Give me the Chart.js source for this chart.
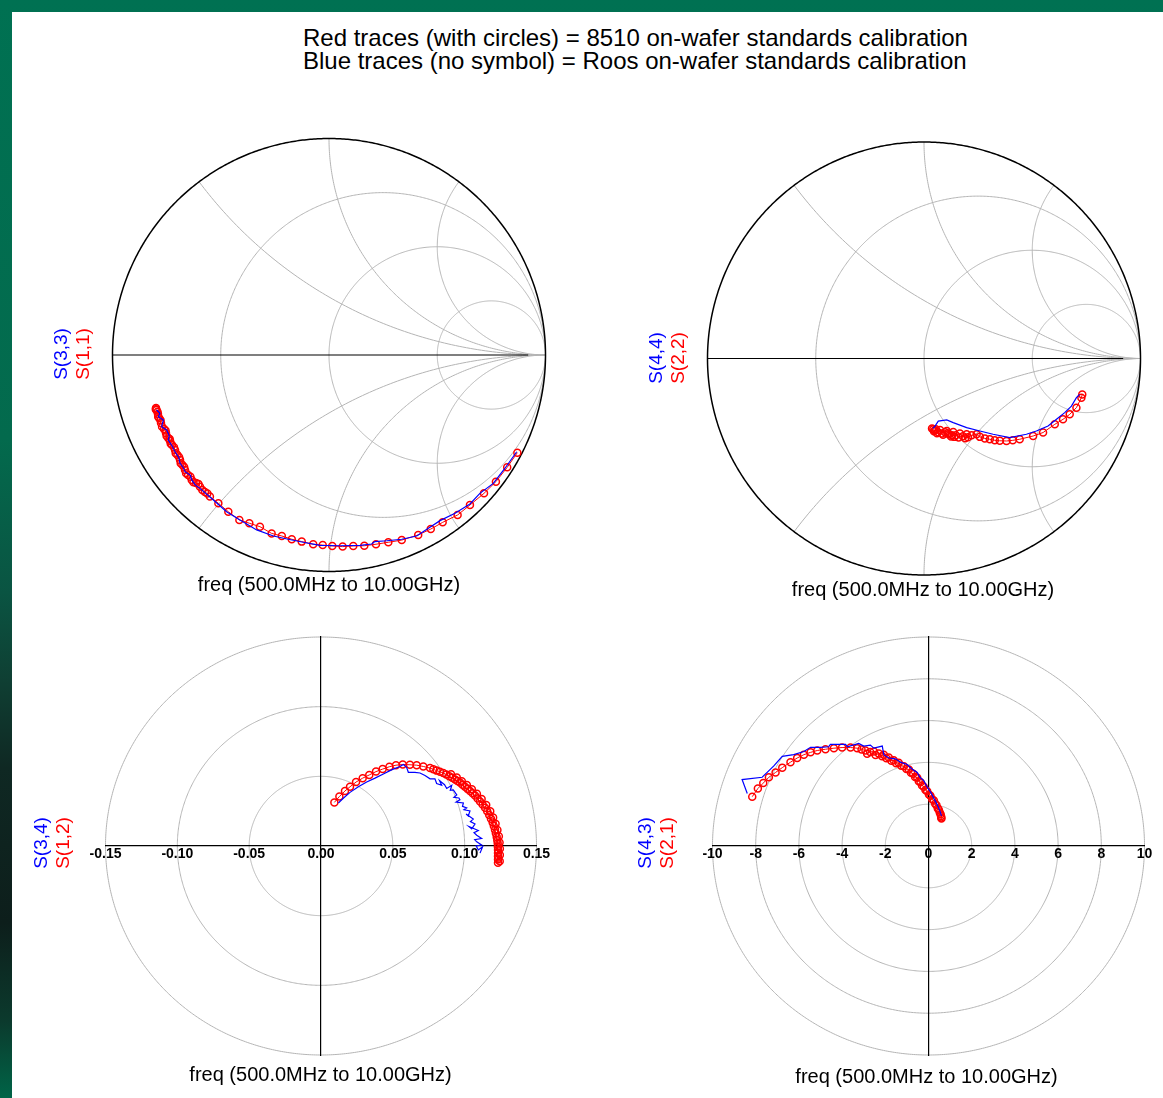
<!DOCTYPE html>
<html>
<head>
<meta charset="utf-8">
<title>S-parameter calibration comparison</title>
<script src="https://cdn.jsdelivr.net/npm/chart.js@4.4.1/dist/chart.umd.min.js"></script>
<style>
  html, body { margin: 0; padding: 0; }
  body {
    width: 1163px; height: 1098px; position: relative; overflow: hidden;
    background: linear-gradient(180deg, #007152 0%, #036a4d 40%, #0a5442 54%, #0f3f33 62%, #0f2823 70%, #0d1e1b 84%, #0b3a2d 93%, #006447 100%);
  }
  #sheet { position: absolute; left: 12px; top: 12px; width: 1151px; height: 1086px; background: #fff; }
  .caption { position: absolute; left: 303px; font: 24px 'Liberation Sans', Arial, sans-serif; color: #000; white-space: nowrap; line-height: 24px; }
  canvas { position: absolute; }
</style>
</head>
<body>
<div id="sheet"></div>
<div class="caption" style="top:26px">Red traces (with circles) = 8510 on-wafer standards calibration</div>
<div class="caption" style="top:49px">Blue traces (no symbol) = Roos on-wafer standards calibration</div>
<canvas id="s11" width="590" height="520" style="left:12px;top:90px"></canvas>
<canvas id="s22" width="561" height="520" style="left:602px;top:90px"></canvas>
<canvas id="s12" width="590" height="486" style="left:12px;top:612px"></canvas>
<canvas id="s21" width="561" height="486" style="left:602px;top:612px"></canvas>
<script>
// ---- Sweep and grid definitions ----
const sweepLabel = 'freq (500.0MHz to 10.00GHz)';
const smithResistance = [1 / 3, 1, 3];
const smithReactance = [0.5, 1, 2, -0.5, -1, -2];
const s12Rings = [0.05, 0.10, 0.15];
const s21Rings = [2, 4, 6, 8, 10];
const s12TickLabels = ['-0.15', '-0.10', '-0.05', '0.00', '0.05', '0.10', '0.15'];
const s21TickLabels = ['-10', '-8', '-6', '-4', '-2', '0', '2', '4', '6', '8', '10'];

// ---- Measured S-parameters (real, imaginary), 500 MHz to 10 GHz ----
// S(1,1): 8510 calibration
const s11Re = [0.870,0.823,0.771,0.716,0.651,0.594,0.525,0.470,0.412,0.336,0.274,0.217,0.163,0.112,0.063,0.015,-0.029,-0.073,-0.126,-0.172,-0.218,-0.265,-0.319,-0.368,-0.414,-0.465,-0.511,
  -0.550,-0.562,-0.573,-0.585,-0.596,-0.603,-0.614,-0.626,-0.634,-0.640,-0.651,-0.660,-0.665,-0.669,-0.677,-0.685,-0.688,-0.692,-0.700,-0.708,-0.711,-0.716,-0.725,-0.731,-0.734,-0.736,-0.742,-0.750,-0.753,-0.755,-0.762,-0.771,-0.776,-0.778,-0.784,-0.789,-0.790,-0.792,-0.797,-0.800,-0.799];
const s11Im = [-0.451,-0.519,-0.585,-0.639,-0.693,-0.739,-0.773,-0.804,-0.831,-0.855,-0.865,-0.874,-0.881,-0.882,-0.885,-0.882,-0.878,-0.874,-0.862,-0.851,-0.836,-0.824,-0.793,-0.777,-0.762,-0.724,-0.685,
  -0.654,-0.640,-0.633,-0.624,-0.608,-0.596,-0.591,-0.588,-0.577,-0.562,-0.554,-0.546,-0.531,-0.517,-0.508,-0.500,-0.485,-0.472,-0.462,-0.454,-0.439,-0.426,-0.416,-0.410,-0.397,-0.388,-0.385,-0.374,-0.360,-0.349,-0.342,-0.331,-0.314,-0.301,-0.292,-0.285,-0.273,-0.262,-0.254,-0.250,-0.245];
// S(3,3): Roos calibration
const s33Re = [0.867,0.813,0.759,0.697,0.651,0.582,0.513,0.459,0.405,0.336,0.267,0.212,0.197,0.143,0.051,-0.042,-0.119,-0.188,-0.257,-0.334,-0.411,-0.473,-0.534,-0.596,-0.618,-0.634,-0.640,-0.665,-0.672,-0.688,-0.693,-0.711,-0.722,-0.742,-0.738,-0.750,-0.773,-0.765,-0.788,-0.781,-0.796];
const s33Im = [-0.447,-0.523,-0.593,-0.639,-0.688,-0.731,-0.765,-0.800,-0.836,-0.851,-0.858,-0.862,-0.873,-0.879,-0.881,-0.879,-0.865,-0.851,-0.836,-0.808,-0.762,-0.724,-0.670,-0.616,-0.600,-0.577,-0.556,-0.539,-0.522,-0.500,-0.476,-0.447,-0.425,-0.393,-0.372,-0.346,-0.331,-0.300,-0.285,-0.269,-0.254];
// S(2,2): 8510 calibration
const s22Re = [0.731,0.727,0.704,0.673,0.642,0.604,0.550,0.504,0.442,0.410,0.381,0.350,0.327,0.304,0.281,0.258,0.243,0.220,0.203,0.197,0.190,0.180,0.166,0.160,0.147,0.140,0.135,0.129,0.125,0.115,0.110,0.105,0.097,0.088,0.083,0.074,0.065,0.060,0.055,0.050,0.046,0.043,0.037];
const s22Im = [-0.166,-0.181,-0.227,-0.258,-0.281,-0.304,-0.342,-0.358,-0.373,-0.378,-0.381,-0.380,-0.378,-0.373,-0.369,-0.362,-0.350,-0.355,-0.364,-0.350,-0.368,-0.359,-0.346,-0.365,-0.355,-0.362,-0.340,-0.355,-0.360,-0.350,-0.345,-0.335,-0.341,-0.352,-0.346,-0.330,-0.341,-0.345,-0.327,-0.333,-0.336,-0.327,-0.323];
// S(4,4): Roos calibration
const s44Re = [0.719,0.704,0.681,0.650,0.612,0.573,0.519,0.473,0.396,0.319,0.258,0.197,0.135,0.105,0.066,0.051,0.041];
const s44Im = [-0.166,-0.181,-0.220,-0.250,-0.281,-0.312,-0.335,-0.350,-0.365,-0.350,-0.335,-0.319,-0.296,-0.284,-0.289,-0.312,-0.323];
// S(1,2): 8510 calibration
const s12Re = [0.0093,0.0128,0.0167,0.0202,0.0244,0.0290,0.0336,0.0383,0.0429,0.0476,0.0522,0.0569,0.0619,0.0666,0.0712,0.0759,0.0782,0.0805,0.0828,0.0851,0.0872,0.0893,0.0913,0.0933,0.0950,0.0967,0.0985,0.1002,0.1020,0.1037,0.1055,0.1072,0.1090,0.1107,0.1125,0.1142,0.1157,0.1171,0.1183,0.1195,0.1203,0.1211,0.1217,0.1223,0.1227,0.1230,0.1231,0.1232,0.1232,0.1232,0.1232,0.1232,
  0.1244,0.1245,0.1245,0.1243,0.1238,0.1228,0.1215,0.1198,0.1178,0.1150,0.1118,0.1085,0.1050,0.1015,0.0980,0.0945,0.0905];
const s12Im = [0.0313,0.0355,0.0395,0.0425,0.0459,0.0487,0.0510,0.0534,0.0552,0.0569,0.0580,0.0585,0.0583,0.0580,0.0571,0.0559,0.0550,0.0541,0.0533,0.0524,0.0513,0.0501,0.0490,0.0478,0.0467,0.0455,0.0440,0.0425,0.0410,0.0395,0.0379,0.0362,0.0341,0.0320,0.0297,0.0274,0.0249,0.0223,0.0196,0.0169,0.0143,0.0116,0.0091,0.0065,0.0042,0.0019,-0.0005,-0.0028,-0.0051,-0.0074,-0.0097,-0.0120,
  -0.0110,-0.0065,-0.0020,0.0025,0.0070,0.0115,0.0160,0.0205,0.0250,0.0295,0.0338,0.0375,0.0408,0.0437,0.0465,0.0492,0.0515];
// S(3,4): Roos calibration
const s34Re = [0.0121,0.0155,0.0202,0.0260,0.0318,0.0376,0.0434,0.0480,0.0503,0.0550,0.0573,0.0596,0.0608,0.0654,0.0689,0.0724,0.0759,0.0793,0.0805,0.0840,0.0825,0.0860,0.0875,0.0910,0.0900,0.0921,0.0945,0.0925,0.0960,0.0967,0.0940,0.0991,0.0985,0.1014,0.0995,0.1037,0.1025,0.1010,0.1060,0.1040,0.1072,0.1049,0.1030,0.1095,0.1065,0.1084,0.1118,0.1070,0.1084,0.1118,0.1080,0.1095,0.1125,0.1107];
const s34Im = [0.0309,0.0343,0.0385,0.0425,0.0459,0.0487,0.0517,0.0541,0.0552,0.0571,0.0585,0.0564,0.0529,0.0529,0.0524,0.0506,0.0482,0.0482,0.0448,0.0436,0.0470,0.0440,0.0413,0.0436,0.0400,0.0402,0.0367,0.0350,0.0345,0.0332,0.0315,0.0309,0.0285,0.0274,0.0260,0.0251,0.0216,0.0230,0.0193,0.0175,0.0158,0.0123,0.0140,0.0111,0.0095,0.0077,0.0054,0.0045,0.0030,0.0007,0.0000,-0.0028,-0.0005,-0.0051];
// S(2,1): 8510 calibration
const s21Re = [-8.16,-7.90,-7.65,-7.39,-7.08,-6.77,-6.39,-6.08,-5.77,-5.46,-5.15,-4.77,-4.38,-4.00,-3.61,-3.30,-3.10,-2.92,-2.84,-2.70,-2.53,-2.45,-2.30,-2.15,-2.07,-1.95,-1.84,-1.72,-1.61,-1.50,-1.38,-1.26,-1.14,-1.02,-0.91,-0.81,-0.71,-0.62,-0.52,-0.45,-0.37,-0.30,-0.22,-0.14,-0.06,0.02,0.09,0.17,0.25,0.31,0.37,0.43,0.48,0.52,0.56,0.58,0.59,0.60];
const s21Im = [2.36,2.75,3.01,3.29,3.52,3.75,4.01,4.21,4.37,4.48,4.57,4.63,4.68,4.71,4.71,4.68,4.62,4.57,4.41,4.50,4.52,4.36,4.42,4.30,4.37,4.20,4.23,4.08,4.10,3.96,3.98,3.84,3.82,3.68,3.66,3.50,3.46,3.30,3.27,3.10,3.05,2.90,2.84,2.68,2.62,2.46,2.40,2.24,2.18,2.02,1.95,1.80,1.74,1.60,1.52,1.44,1.36,1.32];
// S(4,3): Roos calibration
const s43Re = [-8.39,-8.63,-7.70,-7.47,-7.16,-6.77,-6.24,-5.77,-5.46,-5.00,-4.62,-4.54,-3.84,-3.76,-3.23,-3.00,-2.69,-2.53,-2.14,-2.07,-1.84,-1.53,-1.30,-0.99,-0.75,-0.52,-0.40,-0.22,-0.06,0.09,0.25,0.40,0.52,0.60];
const s43Im = [2.51,3.18,3.29,3.52,3.83,4.29,4.37,4.52,4.72,4.72,4.75,4.86,4.86,4.75,4.91,4.78,4.83,4.68,4.78,4.37,4.21,4.17,4.01,3.90,3.67,3.52,3.29,3.13,2.82,2.59,2.28,1.98,1.70,1.44];

const RED = '#ff0000';
const BLUE = '#0000ff';
const GRID = '#b4b4b4';
const FONT = "'Liberation Sans', Arial, sans-serif";

const zip = (re, im) => re.map((v, i) => ({ x: v, y: im[i] }));

function traceSets(red, blue) {
  return [
    { label: 'roos', data: zip(blue[0], blue[1]), showLine: true, borderColor: BLUE,
      borderWidth: 1.2, pointRadius: 0, order: 0 },
    { label: '8510', data: zip(red[0], red[1]), showLine: true, borderColor: RED,
      borderWidth: 1, pointRadius: 3.5, pointBorderWidth: 1.5, pointBorderColor: RED,
      pointBackgroundColor: 'rgba(0,0,0,0)', order: 1 }
  ];
}

// Trace a circle given in data units through the chart's scales
function circlePath(chart, cx, cy, r) {
  const { ctx, scales: { x, y } } = chart;
  ctx.beginPath();
  for (let k = 0; k <= 720; k++) {
    const a = k * Math.PI / 360;
    const px = x.getPixelForValue(cx + r * Math.cos(a));
    const py = y.getPixelForValue(cy + r * Math.sin(a));
    if (k) ctx.lineTo(px, py); else ctx.moveTo(px, py);
  }
  ctx.closePath();
}

// Impedance Smith chart grid: constant-resistance circles and reactance arcs
const smithGrid = {
  id: 'smithGrid',
  beforeDraw(chart) {
    const { ctx, scales: { x, y } } = chart;
    ctx.save();
    circlePath(chart, 0, 0, 1);
    ctx.clip();
    ctx.strokeStyle = GRID;
    ctx.lineWidth = 1;
    smithResistance.forEach(r => { circlePath(chart, r / (1 + r), 0, 1 / (1 + r)); ctx.stroke(); });
    smithReactance.forEach(xv => { circlePath(chart, 1, 1 / xv, Math.abs(1 / xv)); ctx.stroke(); });
    ctx.restore();
    ctx.save();
    ctx.strokeStyle = '#000';
    ctx.lineWidth = 1.5;
    circlePath(chart, 0, 0, 1);
    ctx.stroke();
    ctx.lineWidth = 1.2;
    ctx.beginPath();
    ctx.moveTo(x.getPixelForValue(-1), y.getPixelForValue(0));
    ctx.lineTo(x.getPixelForValue(0.92), y.getPixelForValue(0));
    ctx.stroke();
    ctx.restore();
  }
};

// Polar grid: concentric magnitude rings
const ringGrid = {
  id: 'ringGrid',
  beforeDraw(chart, args, opts) {
    const { ctx } = chart;
    ctx.save();
    ctx.strokeStyle = GRID;
    ctx.lineWidth = 1;
    (opts.rings || []).forEach(r => { circlePath(chart, 0, 0, r); ctx.stroke(); });
    ctx.restore();
  }
};

// Trace names on the left and the sweep range underneath
const panelText = {
  id: 'panelText',
  afterDraw(chart, args, o) {
    const { ctx } = chart;
    ctx.save();
    ctx.fillStyle = '#000';
    ctx.font = '20px ' + FONT;
    ctx.textAlign = 'center';
    ctx.textBaseline = 'middle';
    ctx.fillText(sweepLabel, o.sweepX, o.sweepY);
    ctx.font = '19px ' + FONT;
    [[o.blueName, BLUE, o.blueX], [o.redName, RED, o.redX]].forEach(([txt, col, lx]) => {
      ctx.save();
      ctx.translate(lx, o.nameY);
      ctx.rotate(-Math.PI / 2);
      ctx.fillStyle = col;
      ctx.fillText(txt, 0, 0);
      ctx.restore();
    });
    ctx.restore();
  }
};

const panels = [
  { id: 's11', kind: 'smith', box: { x: 12, y: 90 }, area: { l: 112.5, r: 545.5, t: 138.5, b: 571.5 },
    red: [s11Re, s11Im], blue: [s33Re, s33Im], redName: 'S(1,1)', blueName: 'S(3,3)',
    names: [62, 84, 354], sweep: [329, 585] },
  { id: 's22', kind: 'smith', box: { x: 602, y: 90 }, area: { l: 707.5, r: 1140.5, t: 142, b: 575 },
    red: [s22Re, s22Im], blue: [s44Re, s44Im], redName: 'S(2,2)', blueName: 'S(4,4)',
    names: [657, 679, 358], sweep: [923, 590] },
  { id: 's12', kind: 'polar', box: { x: 12, y: 612 }, area: { l: 105.5, r: 536.5, t: 637, b: 1055 },
    red: [s12Re, s12Im], blue: [s34Re, s34Im], redName: 'S(1,2)', blueName: 'S(3,4)',
    names: [42, 64, 843], sweep: [320.5, 1075], rings: s12Rings, ticks: s12TickLabels },
  { id: 's21', kind: 'polar', box: { x: 602, y: 612 }, area: { l: 712.5, r: 1144.5, t: 637, b: 1055 },
    red: [s21Re, s21Im], blue: [s43Re, s43Im], redName: 'S(2,1)', blueName: 'S(4,3)',
    names: [646, 668, 843], sweep: [926.5, 1077], rings: s21Rings, ticks: s21TickLabels }
];

panels.forEach(p => {
  const cv = document.getElementById(p.id);
  const W = cv.width, H = cv.height;
  const padding = {
    left: p.area.l - p.box.x,
    top: p.area.t - p.box.y,
    right: p.box.x + W - p.area.r,
    bottom: p.box.y + H - p.area.b
  };
  let scales;
  if (p.kind === 'smith') {
    scales = {
      x: { type: 'linear', min: -1, max: 1, display: false },
      y: { type: 'linear', min: -1, max: 1, display: false }
    };
  } else {
    const lim = p.rings[p.rings.length - 1];
    const labels = p.ticks;
    scales = {
      x: {
        type: 'linear', min: -lim, max: lim, position: { y: 0 },
        grid: { display: false, drawTicks: false },
        border: { display: true, color: '#000', width: 1.2 },
        afterBuildTicks: s => { s.ticks = labels.map(t => ({ value: parseFloat(t) })); },
        ticks: { color: '#000', font: { family: FONT, size: 14, weight: 'bold' }, padding: 0,
          autoSkip: false, maxRotation: 0, minRotation: 0,
          callback: (v, i) => labels[i] }
      },
      y: {
        type: 'linear', min: -lim, max: lim, position: { x: 0 },
        grid: { display: false, drawTicks: false },
        border: { display: true, color: '#000', width: 1.2 },
        ticks: { display: false }
      }
    };
  }
  new Chart(cv, {
    type: 'scatter',
    data: { datasets: traceSets(p.red, p.blue) },
    options: {
      responsive: false,
      maintainAspectRatio: false,
      animation: false,
      devicePixelRatio: 1,
      events: [],
      layout: { padding },
      scales,
      plugins: {
        legend: { display: false },
        tooltip: { enabled: false },
        ringGrid: { rings: p.rings || [] },
        panelText: {
          sweepX: p.sweep[0] - p.box.x, sweepY: p.sweep[1] - p.box.y,
          blueName: p.blueName, redName: p.redName,
          blueX: p.names[0] - p.box.x, redX: p.names[1] - p.box.x, nameY: p.names[2] - p.box.y
        }
      }
    },
    plugins: [p.kind === 'smith' ? smithGrid : ringGrid, panelText]
  });
});
</script>
</body>
</html>
